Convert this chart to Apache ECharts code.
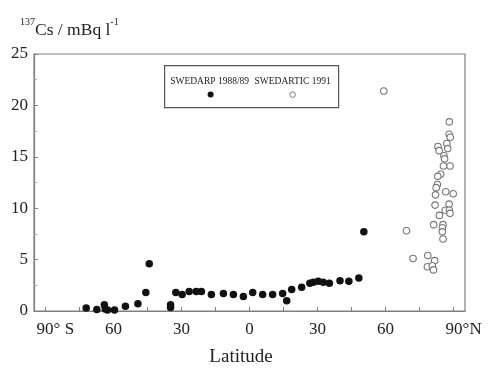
<!DOCTYPE html>
<html>
<head>
<meta charset="utf-8">
<script src="https://cdn.jsdelivr.net/npm/echarts@6/dist/echarts.min.js"></script>
<style>
  html, body { margin: 0; padding: 0; background: #fff; }
  #chart { width: 491px; height: 372px; }
</style>
</head>
<body>
<div id="chart"></div>
<script>
// latitude (negative = south), 137Cs in mBq/l
const swedarp = [
  [-72.0, 0.3], [-67.3, 0.15], [-64.0, 0.6], [-63.6, 0.2], [-62.6, 0.1], [-59.5, 0.1],
  [-54.7, 0.45], [-49.2, 0.7], [-45.7, 1.8], [-44.2, 4.6], [-34.8, 0.6], [-34.8, 0.35],
  [-32.5, 1.8], [-29.7, 1.6], [-26.6, 1.9], [-23.5, 1.9], [-21.2, 1.9], [-16.8, 1.6],
  [-11.5, 1.7], [-7.1, 1.6], [-2.7, 1.4], [1.4, 1.8], [5.8, 1.6], [10.2, 1.6],
  [14.6, 1.7], [16.4, 1.0], [18.6, 2.1], [23.0, 2.3], [26.6, 2.7], [28.1, 2.8],
  [30.3, 2.9], [32.5, 2.8], [35.2, 2.7], [39.9, 2.95], [43.8, 2.9], [48.2, 3.2],
  [50.4, 7.7]
];

const swedartic = [
  [59.2, 21.4], [88.1, 18.4], [88.0, 17.2], [88.5, 16.9], [87.0, 16.3], [83.1, 16.0],
  [87.4, 15.8], [83.6, 15.6], [85.7, 15.1], [86.0, 14.8], [85.5, 14.1], [88.4, 14.1],
  [84.3, 13.3], [83.0, 13.1], [82.8, 12.3], [82.3, 12.0], [82.0, 11.3], [86.5, 11.6],
  [89.8, 11.4], [81.8, 10.3], [88.0, 10.4], [86.3, 9.8], [88.1, 9.8], [88.4, 9.5],
  [83.7, 9.3], [69.2, 7.8], [81.2, 8.4], [85.3, 8.4], [85.0, 8.1], [85.0, 7.7],
  [85.3, 7.0], [72.1, 5.1], [78.6, 5.4], [81.6, 4.9], [78.4, 4.3], [80.6, 4.4],
  [81.1, 4.0]
];

const xTicks = [-90, -75, -60, -45, -30, -15, 0, 15, 30, 45, 60, 75, 90];
const xLabels = [-90, -60, -30, 0, 30, 60, 90];
const seriesNames = ['SWEDARP 1988/89', 'SWEDARTIC 1991'];

const serif = '"Liberation Serif", "DejaVu Serif", serif';
const axisGray = '#808080';

const chart = echarts.init(document.getElementById('chart'));

const option = {
  animation: false,
  backgroundColor: '#fff',
  textStyle: { fontFamily: serif },
  title: {
    text: '{sup|137}{b|Cs / mBq l}{sup|-1}',
    left: 15,
    top: 12,
    textStyle: {
      fontWeight: 'normal',
      rich: {
        b: { fontFamily: serif, fontSize: 17.5, fontWeight: 'normal', color: '#222', lineHeight: 22, verticalAlign: 'bottom' },
        sup: { fontFamily: serif, fontSize: 10, fontWeight: 'normal', color: '#222', lineHeight: 22, verticalAlign: 'top' }
      }
    }
  },
  grid: {
    left: 34,
    right: 26,
    top: 54,
    bottom: 57,
    show: true,
    borderColor: axisGray,
    borderWidth: 1.2
  },
  xAxis: {
    type: 'value',
    min: -95,
    max: 95,
    name: 'Latitude',
    nameLocation: 'middle',
    nameGap: 37,
    nameTextStyle: { fontFamily: serif, fontSize: 19, color: '#222', padding: [0, 17, 0, 0] },
    splitLine: { show: false },
    axisLine: { onZero: false, lineStyle: { color: axisGray, width: 1.2 } },
    axisTick: { inside: true, length: 4, customValues: xTicks, lineStyle: { color: axisGray } },
    axisLabel: {
      customValues: xLabels,
      margin: 10,
      fontFamily: serif,
      fontSize: 17,
      color: '#222',
      formatter: function (v) {
        if (v === -90) return '{s|90° S}';
        if (v === 90) return '{s|90°N}';
        return String(Math.abs(v));
      },
      rich: {
        s: { fontFamily: serif, fontSize: 17, color: '#222', padding: [0, 0, 0, 20] }
      }
    }
  },
  yAxis: {
    type: 'value',
    min: 0,
    max: 25,
    interval: 5,
    splitLine: { show: false },
    axisLine: { show: true, onZero: false, lineStyle: { color: axisGray, width: 1.2 } },
    axisTick: { show: true, inside: true, length: 4, lineStyle: { color: axisGray } },
    minorTick: { show: true, splitNumber: 2, length: 3, lineStyle: { color: '#aaa' } },
    axisLabel: { margin: 6, fontFamily: serif, fontSize: 17, color: '#222' }
  },
  graphic: [
    {
      type: 'group',
      left: 164,
      top: 65,
      children: [
        { type: 'rect', shape: { x: 0, y: 0, width: 174, height: 42 },
          style: { fill: '#fff', stroke: '#555', lineWidth: 1.2 } },
        { type: 'text', x: 45, y: 16,
          style: { text: seriesNames[0], fontFamily: serif, fontSize: 9.5, fill: '#222', align: 'center', verticalAlign: 'middle' } },
        { type: 'text', x: 128, y: 16,
          style: { text: seriesNames[1], fontFamily: serif, fontSize: 9.5, fill: '#222', align: 'center', verticalAlign: 'middle' } },
        { type: 'circle', shape: { cx: 46, cy: 29, r: 3 }, style: { fill: '#111' } },
        { type: 'circle', shape: { cx: 128, cy: 29, r: 2.8 }, style: { fill: '#fff', stroke: '#777', lineWidth: 1 } }
      ]
    }
  ],
  series: [
    {
      name: seriesNames[0],
      type: 'scatter',
      symbol: 'circle',
      symbolSize: 7.5,
      itemStyle: { color: '#111', opacity: 1 },
      data: swedarp
    },
    {
      name: seriesNames[1],
      type: 'scatter',
      symbol: 'circle',
      symbolSize: 6.5,
      itemStyle: { color: '#fff', borderColor: '#777', borderWidth: 1.1, opacity: 1 },
      data: swedartic
    }
  ]
};

chart.setOption(option);
</script>
</body>
</html>
